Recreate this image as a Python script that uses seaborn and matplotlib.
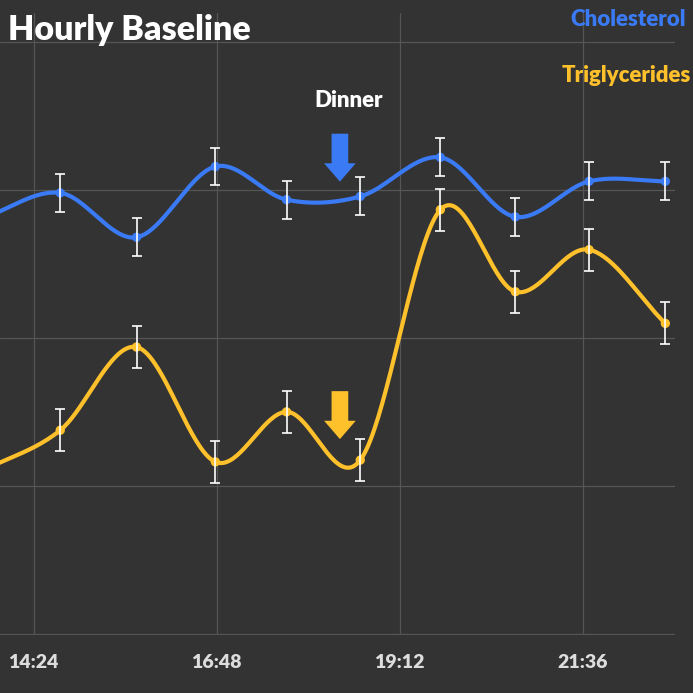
import numpy as np
import pandas as pd
import matplotlib
matplotlib.use("Agg")
import matplotlib.pyplot as plt
from matplotlib.ticker import FixedLocator, FuncFormatter
import seaborn as sns

# ---- data ----
times = ["13:45", "14:45", "15:45", "16:47", "17:43", "18:41", "19:44", "20:43", "21:41", "22:41"]
cholesterol = [240.6, 249.0, 234.0, 257.9, 246.7, 247.8, 261.0, 240.9, 252.9, 252.9]
cholesterol_err = [6.4, 6.4, 6.4, 6.4, 6.4, 6.4, 6.4, 6.4, 6.4, 6.4]
triglycerides = [155.3, 168.8, 196.9, 158.1, 175.0, 158.7, 243.3, 215.6, 229.8, 204.9]
triglycerides_err = [7.1, 7.1, 7.1, 7.1, 7.1, 7.1, 7.1, 7.1, 7.1, 7.1]
tick_labels = ["14:24", "16:48", "19:12", "21:36"]
dinner_time = "18:25"
series_names = ["Cholesterol", "Triglycerides"]

BG = "#333333"
BLUE = "#3a7af4"
YELLOW = "#ffc12b"
GRID = "#555555"


def to_hours(t):
    h, m = t.split(":")
    return int(h) + int(m) / 60.0


x = np.array([to_hours(t) for t in times])
ticks = [to_hours(t) for t in tick_labels]
dinner_x = to_hours(dinner_time)


def smooth(xv, yv, n=40):
    xv = np.asarray(xv, float)
    yv = np.asarray(yv, float)
    m = np.zeros_like(yv)
    m[1:-1] = (yv[2:] - yv[:-2]) / (xv[2:] - xv[:-2])
    m[0] = (yv[1] - yv[0]) / (xv[1] - xv[0])
    m[-1] = (yv[-1] - yv[-2]) / (xv[-1] - xv[-2])
    xs, ys = [], []
    for i in range(len(xv) - 1):
        h = xv[i + 1] - xv[i]
        t = np.linspace(0, 1, n, endpoint=(i == len(xv) - 2))
        h00 = 2 * t**3 - 3 * t**2 + 1
        h10 = t**3 - 2 * t**2 + t
        h01 = -2 * t**3 + 3 * t**2
        h11 = t**3 - t**2
        xs.append(xv[i] + t * h)
        ys.append(h00 * yv[i] + h10 * h * m[i] + h01 * yv[i + 1] + h11 * h * m[i + 1])
    return np.concatenate(xs), np.concatenate(ys)


sns.set_theme(style="dark")
plt.rcParams["font.family"] = ["Lato", "DejaVu Sans"]

fig = plt.figure(figsize=(6.93, 6.93), dpi=100, facecolor=BG)
ax = fig.add_axes([0.0, 58 / 693, 675 / 693, (635 - 13) / 693])
ax.set_facecolor(BG)

for name, yv, err, col in [
    (series_names[0], cholesterol, cholesterol_err, BLUE),
    (series_names[1], triglycerides, triglycerides_err, YELLOW),
]:
    sx, sy = smooth(x, yv)
    df_s = pd.DataFrame({"x": sx, "y": sy})
    sns.lineplot(data=df_s, x="x", y="y", ax=ax, color=col, linewidth=3.0, sort=False, zorder=3)
    df = pd.DataFrame({"x": x, "y": yv})
    sns.scatterplot(data=df, x="x", y="y", ax=ax, color=col, s=45, edgecolor="none", zorder=4)
    ax.errorbar(x, yv, yerr=err, fmt="none", ecolor="white", elinewidth=1.2, capsize=3.5,
                capthick=1.2, zorder=5)

ax.set_xlim(13.96, 22.81)
ax.set_ylim(99.6, 100 + 622 / 2.965)
ax.yaxis.set_major_locator(FixedLocator([100, 150, 200, 250, 300]))
ax.xaxis.set_major_locator(FixedLocator(ticks))
ax.xaxis.set_major_formatter(FuncFormatter(lambda v, p: "%d:%02d" % (int(v), round((v - int(v)) * 60))))
ax.grid(True, color=GRID, linewidth=0.9)
ax.set_yticklabels([])
ax.tick_params(axis="y", length=0)
ax.tick_params(axis="x", length=0, colors="#dddddd", labelsize=14, pad=14)
for lbl in ax.get_xticklabels():
    lbl.set_fontweight("heavy")
ax.set_xlabel("")
ax.set_ylabel("")
for s in ax.spines.values():
    s.set_visible(False)

# dinner arrows
ax.annotate("", xy=(dinner_x, 252.8), xytext=(dinner_x, 269.0),
            arrowprops=dict(arrowstyle="simple,head_width=1.9,head_length=1.1,tail_width=1.0",
                            color=BLUE, lw=0, shrinkA=0, shrinkB=0), zorder=6)
ax.annotate("", xy=(dinner_x, 165.8), xytext=(dinner_x, 182.0),
            arrowprops=dict(arrowstyle="simple,head_width=1.9,head_length=1.1,tail_width=1.0",
                            color=YELLOW, lw=0, shrinkA=0, shrinkB=0), zorder=6)
ax.text(dinner_x + 0.11, 280.1, "Dinner", color="white", fontsize=16, fontweight="heavy",
        ha="center", va="center")

fig.text(8 / 693, 1 - 40 / 693, "Hourly Baseline", color="white", fontsize=24.5,
         fontweight="heavy", ha="left", va="baseline")
fig.text(686 / 693, 1 - 20 / 693, series_names[0], color=BLUE, fontsize=16,
         fontweight="heavy", ha="right", va="center")
fig.text(691 / 693, 1 - 75 / 693, series_names[1], color=YELLOW, fontsize=16,
         fontweight="heavy", ha="right", va="center")

fig.savefig("out.png", dpi=100, facecolor=BG)
